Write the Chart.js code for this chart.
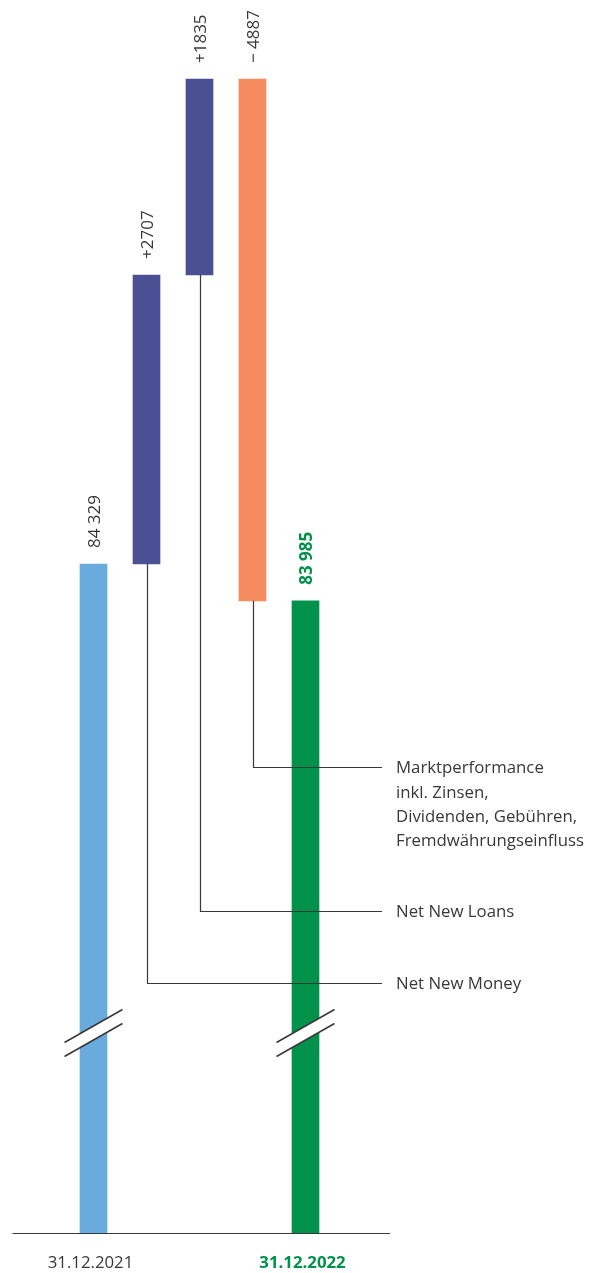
<!DOCTYPE html>
<html>
<head>
<meta charset="utf-8">
<script src="https://cdn.jsdelivr.net/npm/chart.js@4"></script>
<style>
  html, body { margin: 0; padding: 0; background: #fff; }
  #wrap { width: 598px; height: 1273px; position: relative; }
</style>
</head>
<body>
<div id="wrap"><canvas id="bridge"></canvas></div>
<script>
// Daten (in Mio. CHF)
var categories = ['31.12.2021', 'Net New Money', 'Net New Loans', 'Marktperformance', '31.12.2022'];
var startValue = 84329;
var changes = [2707, 1835, -4887];
var endValue = 83985;
var valueLabels = ['84 329', '+2707', '+1835', '\u2212 4887', '83 985'];
var tickLabels = ['31.12.2021', '', '', '', '31.12.2022'];
var calloutTexts = [null, ['Net New Money'], ['Net New Loans'],
  ['Marktperformance', 'inkl. Zinsen,', 'Dividenden, Gebühren,', 'Fremdwährungseinfluss'], null];
var barColors = ['#69abdc', '#4b4f93', '#4b4f93', '#f68b5f', '#00924a'];

// unterbrochene Achse: sichtbarer Ausschnitt
var axisMin = 78064;
var axisMax = 89611;

var green = '#00924a';
var textGrey = '#383838';
var fontFamily = '"Open Sans", "Noto Sans", sans-serif';

// Floating bars aus laufender Summe
var ranges = [];
ranges.push([axisMin, startValue]);
var running = startValue;
changes.forEach(function(c) {
  ranges.push([running, running + c]);
  running += c;
});
ranges.push([axisMin, endValue]);

// Plugin: Werte, Achsenlinie, Bruchzeichen, Legendenlinien
var decorPlugin = {
  id: 'decor',
  afterDatasetsDraw: function(chart, args, opts) {
    var ctx = chart.ctx;
    var meta = chart.getDatasetMeta(0);
    var area = chart.chartArea;

    ctx.save();
    // Basislinie
    ctx.strokeStyle = textGrey;
    ctx.lineWidth = 1.2;
    ctx.beginPath();
    ctx.moveTo(opts.axisLeft, area.bottom + 0.5);
    ctx.lineTo(opts.axisRight, area.bottom + 0.5);
    ctx.stroke();

    // Bruchzeichen auf Anfangs- und Endbalken
    [0, meta.data.length - 1].forEach(function(i) {
      var bar = meta.data[i];
      var cx = bar.x;
      var y0 = opts.breakY;
      var hw = opts.breakHalfWidth;
      var rise = opts.breakRise;
      var gap = opts.breakGap;
      ctx.fillStyle = '#ffffff';
      ctx.beginPath();
      ctx.moveTo(cx - hw, y0 + rise / 2);
      ctx.lineTo(cx + hw, y0 - rise / 2);
      ctx.lineTo(cx + hw, y0 - rise / 2 + gap);
      ctx.lineTo(cx - hw, y0 + rise / 2 + gap);
      ctx.closePath();
      ctx.fill();
      ctx.strokeStyle = textGrey;
      ctx.lineWidth = 1.5;
      ctx.beginPath();
      ctx.moveTo(cx - hw, y0 + rise / 2);
      ctx.lineTo(cx + hw, y0 - rise / 2);
      ctx.moveTo(cx - hw, y0 + rise / 2 + gap);
      ctx.lineTo(cx + hw, y0 - rise / 2 + gap);
      ctx.stroke();
    });

    // Legendenlinien mit Beschriftung
    ctx.font = '16.8px ' + fontFamily;
    ctx.textAlign = 'left';
    ctx.textBaseline = 'middle';
    calloutTexts.forEach(function(lines, i) {
      if (!lines) return;
      var bar = meta.data[i];
      var bottom = Math.max(bar.y, bar.base);
      var ly = opts.calloutY[i];
      ctx.strokeStyle = textGrey;
      ctx.lineWidth = 1.2;
      ctx.beginPath();
      ctx.moveTo(Math.round(bar.x) + 0.5, bottom);
      ctx.lineTo(Math.round(bar.x) + 0.5, ly + 0.5);
      ctx.lineTo(opts.calloutLineEnd, ly + 0.5);
      ctx.stroke();
      ctx.fillStyle = textGrey;
      lines.forEach(function(t, k) {
        ctx.fillText(t, opts.calloutTextX, ly + 1.5 + k * 24.3);
      });
    });

    // Werte über den Balken (gedreht)
    meta.data.forEach(function(bar, i) {
      var top = Math.min(bar.y, bar.base);
      var last = i === meta.data.length - 1;
      ctx.save();
      ctx.translate(bar.x + 1.5, top - 16);
      ctx.rotate(-Math.PI / 2);
      ctx.font = (last ? 'bold ' : '') + '17px ' + fontFamily;
      ctx.fillStyle = last ? green : textGrey;
      ctx.textAlign = 'left';
      ctx.textBaseline = 'middle';
      ctx.fillText(valueLabels[i], 0, 0);
      ctx.restore();
    });
    ctx.restore();
  }
};

var chart = new Chart(document.getElementById('bridge'), {
  type: 'bar',
  data: {
    labels: tickLabels,
    datasets: [{
      data: ranges,
      backgroundColor: barColors,
      borderWidth: 0,
      borderSkipped: false,
      barThickness: 27
    }]
  },
  options: {
    responsive: true,
    maintainAspectRatio: false,
    animation: false,
    layout: { padding: { left: 67, right: 266, top: 0, bottom: 0 } },
    plugins: {
      legend: { display: false },
      tooltip: { enabled: false },
      decor: {
        axisLeft: 12.5,
        axisRight: 390,
        breakY: 1026,
        breakHalfWidth: 29,
        breakRise: 33,
        breakGap: 14,
        calloutY: [null, 983, 911, 767, null],
        calloutLineEnd: 382,
        calloutTextX: 396
      }
    },
    scales: {
      x: {
        grid: { display: false, drawTicks: false },
        border: { display: false },
        afterFit: function(scale) { scale.height = 40; },
        ticks: {
          padding: 20,
          labelOffset: -3,
          maxRotation: 0,
          autoSkip: false,
          color: function(c) { return c.index === 4 ? green : textGrey; },
          font: function(c) {
            return { family: fontFamily, size: 16.8, weight: c.index === 4 ? 'bold' : 'normal' };
          }
        }
      },
      y: {
        display: false,
        min: axisMin,
        max: axisMax
      }
    }
  },
  plugins: [decorPlugin]
});
</script>
</body>
</html>
